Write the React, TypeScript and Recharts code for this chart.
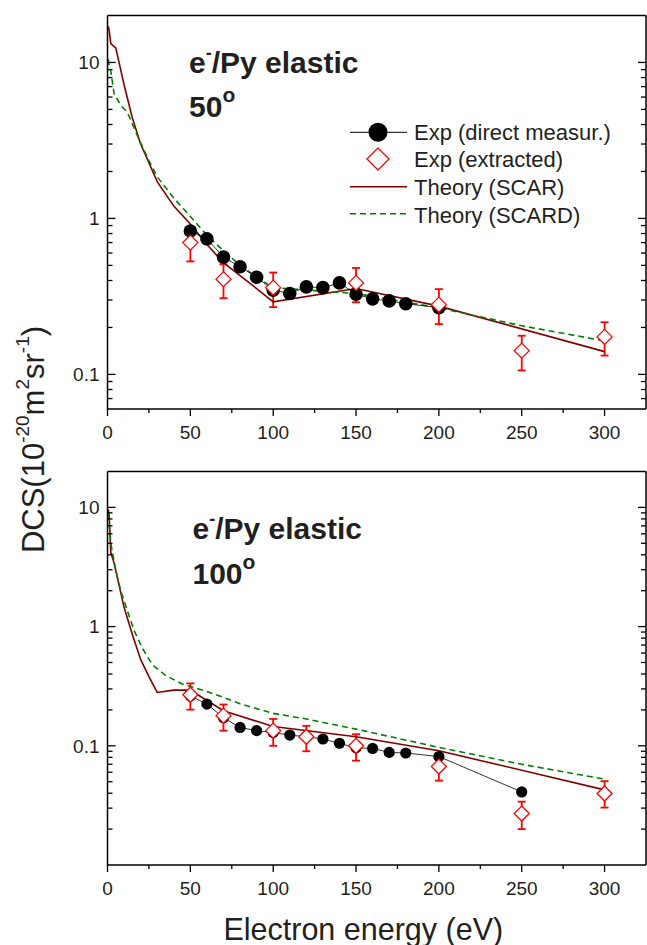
import React from 'react'
import { ComposedChart, Line, Scatter, ErrorBar, XAxis, YAxis, Legend } from 'recharts'

const FONT = '"Liberation Sans", Arial, Helvetica, sans-serif'
const INK = '#231f20'
const RED = '#ff0000'
const SCAR_COLOR = '#800000'
const SCARD_COLOR = '#008000'

// ---- 50 deg ----
const direct50E = [50, 60, 70, 80, 90, 100, 110, 120, 130, 140, 150, 160, 170, 180, 200]
const direct50V = [0.83, 0.74, 0.565, 0.49, 0.42, 0.347, 0.33, 0.364, 0.36, 0.386, 0.327, 0.305, 0.296, 0.284, 0.268]

const extr50E = [50, 70, 100, 150, 200, 250, 300]
const extr50V = [0.7, 0.408, 0.36, 0.386, 0.28, 0.142, 0.174]
const extr50Lo = [0.17, 0.1, 0.09, 0.096, 0.07, 0.036, 0.042]
const extr50Hi = [0.18, 0.1, 0.09, 0.095, 0.072, 0.035, 0.042]

const scar50E = [0.5, 1, 2, 5, 10, 15, 20, 30, 40, 50, 60, 70, 80, 90, 100, 150, 200, 300]
const scar50V = [17, 16, 13.2, 12.4, 7.2, 4.4, 3.0, 1.72, 1.2, 0.92, 0.68, 0.52, 0.43, 0.355, 0.292, 0.355, 0.274, 0.14]

const scard50E = [0.5, 1, 2, 4, 8, 12, 16, 20, 25, 30, 40, 50, 60, 70, 80, 90, 100, 150, 200, 250, 300]
const scard50V = [10.5, 9.5, 8.8, 6.3, 5.3, 4.8, 3.8, 3.05, 2.35, 1.85, 1.35, 1.03, 0.78, 0.62, 0.5, 0.42, 0.36, 0.33, 0.267, 0.205, 0.164]

// ---- 100 deg ----
const direct100E = [50, 60, 70, 80, 90, 100, 110, 120, 130, 140, 150, 160, 170, 180, 200, 250]
const direct100V = [0.262, 0.224, 0.172, 0.1425, 0.134, 0.129, 0.123, 0.119, 0.114, 0.105, 0.096, 0.095, 0.088, 0.087, 0.0813, 0.041]

const extr100E = [50, 70, 100, 120, 150, 200, 250, 300]
const extr100V = [0.268, 0.179, 0.134, 0.119, 0.1, 0.067, 0.027, 0.0398]
const extr100Lo = [0.067, 0.045, 0.034, 0.029, 0.025, 0.016, 0.007, 0.0095]
const extr100Hi = [0.066, 0.043, 0.034, 0.028, 0.025, 0.017, 0.007, 0.0107]

const scar100E = [0.5, 1, 2, 4, 10, 15, 20, 25, 30, 40, 50, 60, 70, 100, 150, 200, 300]
const scar100V = [9.6, 8.5, 4.2, 3.4, 1.45, 0.86, 0.53, 0.38, 0.28, 0.293, 0.293, 0.24, 0.197, 0.145, 0.119, 0.091, 0.0427]

const scard100E = [0.5, 1, 2, 5, 8, 12, 16, 21, 27, 35, 45, 50, 60, 70, 80, 100, 120, 150, 200, 250, 300]
const scard100V = [8.8, 7.5, 5.0, 2.95, 2.0, 1.36, 0.93, 0.66, 0.48, 0.39, 0.33, 0.315, 0.285, 0.255, 0.225, 0.187, 0.168, 0.138, 0.097, 0.07, 0.0525]

// ---- ticks ----
const xTicks = [0, 25, 50, 75, 100, 125, 150, 175, 200, 225, 250, 275, 300]
const yTicks50 = [0.07, 0.08, 0.09, 0.1, 0.2, 0.3, 0.4, 0.5, 0.6, 0.7, 0.8, 0.9, 1, 2, 3, 4, 5, 6, 7, 8, 9, 10]
const yTicks100 = [0.02, 0.03, 0.04, 0.05, 0.06, 0.07, 0.08, 0.09, 0.1, 0.2, 0.3, 0.4, 0.5, 0.6, 0.7, 0.8, 0.9, 1, 2, 3, 4, 5, 6, 7, 8, 9, 10]
const yMajors = [0.01, 0.1, 1, 10]

type Pt = { e: number; v: number; err?: number[] }
const zip = (es: number[], vs: number[]): Pt[] => es.map((e, i) => ({ e, v: vs[i] }))
const zipErr = (es: number[], vs: number[], lo: number[], hi: number[]): Pt[] =>
    es.map((e, i) => ({ e, v: vs[i], err: [lo[i], hi[i]] }))

const BottomTick = (props: any) => {
    const { x, y, payload } = props
    const v = payload.value
    const major = v % 50 === 0
    return (
        <g>
            <line x1={x} x2={x} y1={y} y2={y + (major ? 7 : 4)} stroke="#000" strokeWidth={1.3} />
            {major && (
                <text x={x} y={y + 29.5} textAnchor="middle" fontSize={19} fontFamily={FONT} fill={INK}>
                    {v}
                </text>
            )}
        </g>
    )
}

const TopTick = (props: any) => {
    const { x, y, payload } = props
    const major = payload.value % 50 === 0
    return <line x1={x} x2={x} y1={y} y2={y + (major ? 6 : 4)} stroke="#000" strokeWidth={1.3} />
}

const LeftTick = (props: any) => {
    const { x, y, payload } = props
    const v = payload.value
    const major = yMajors.includes(v)
    return (
        <g>
            <line x1={x} x2={x + (major ? 8 : 5)} y1={y} y2={y} stroke="#000" strokeWidth={1.3} />
            {major && (
                <text x={x - 8} y={y} dy="0.36em" textAnchor="end" fontSize={19} fontFamily={FONT} fill={INK}>
                    {String(v)}
                </text>
            )}
        </g>
    )
}

const RightTick = (props: any) => {
    const { x, y, payload } = props
    const major = yMajors.includes(payload.value)
    return <line x1={x} x2={x - (major ? 8 : 5)} y1={y} y2={y} stroke="#000" strokeWidth={1.3} />
}

const Diamond = (props: any) => {
    const { cx, cy } = props
    const h = 7.5
    return (
        <path
            d={`M${cx},${cy - h}L${cx + h},${cy}L${cx},${cy + h}L${cx - h},${cy}Z`}
            fill="#fff"
            stroke={RED}
            strokeWidth={1.3}
        />
    )
}

const makeDot = (r: number) => (props: any) => <circle cx={props.cx} cy={props.cy} r={r} fill="#000" />

const LegendBox = () => (
    <svg width={300} height={115} style={{ overflow: 'visible', display: 'block' }}>
        <g fontFamily={FONT} fontSize={22} fill={INK}>
            <line x1={10} x2={67} y1={14.3} y2={14.3} stroke="#000" strokeWidth={1} />
            <circle cx={38} cy={14.3} r={9.5} fill="#000" />
            <text x={74} y={21.5}>Exp (direct measur.)</text>
            <path d="M38,30 L49,41 L38,52 L27,41 Z" fill="#fff" stroke={RED} strokeWidth={1.3} />
            <text x={74} y={49.2}>Exp (extracted)</text>
            <line x1={10} x2={67} y1={68.7} y2={68.7} stroke={SCAR_COLOR} strokeWidth={1.6} />
            <text x={74} y={76.9}>Theory (SCAR)</text>
            <line x1={10} x2={67} y1={95.7} y2={95.7} stroke={SCARD_COLOR} strokeWidth={1.6} strokeDasharray="6 4" />
            <text x={74} y={104.6}>Theory (SCARD)</text>
        </g>
    </svg>
)

interface PanelProps {
    direct: Pt[]
    extracted: Pt[]
    scar: Pt[]
    scard: Pt[]
    yDomain: [number, number]
    yTicks: number[]
    dotR: number
    legend?: boolean
}

function Panel({ direct, extracted, scar, scard, yDomain, yTicks, dotR, legend }: PanelProps) {
    const axisLine = { stroke: '#000', strokeWidth: 1.5 }
    return (
        <ComposedChart width={647} height={441} margin={{ top: 14.5, right: 0, bottom: 0, left: 106.5 }}>
            <XAxis
                xAxisId="b"
                dataKey="e"
                type="number"
                domain={[0, 325]}
                allowDataOverflow
                ticks={xTicks}
                interval={0}
                height={32}
                tickSize={0}
                tickMargin={0}
                tickLine={false}
                axisLine={axisLine}
                tick={BottomTick}
            />
            <XAxis
                xAxisId="t"
                orientation="top"
                type="number"
                domain={[0, 325]}
                allowDataOverflow
                ticks={xTicks}
                interval={0}
                height={1}
                tickSize={0}
                tickMargin={0}
                tickLine={false}
                axisLine={axisLine}
                tick={TopTick}
            />
            <YAxis
                yAxisId="l"
                dataKey="v"
                type="number"
                scale="log"
                domain={yDomain}
                allowDataOverflow
                ticks={yTicks}
                interval={0}
                width={1}
                tickSize={0}
                tickMargin={0}
                tickLine={false}
                axisLine={axisLine}
                tick={LeftTick}
            />
            <YAxis
                yAxisId="r"
                orientation="right"
                type="number"
                scale="log"
                domain={yDomain}
                allowDataOverflow
                ticks={yTicks}
                interval={0}
                width={1}
                tickSize={0}
                tickMargin={0}
                tickLine={false}
                axisLine={axisLine}
                tick={RightTick}
            />
            <Scatter
                xAxisId="b"
                yAxisId="l"
                data={direct}
                dataKey="v"
                line={{ stroke: '#000', strokeWidth: 0.8 }}
                shape={makeDot(dotR)}
                isAnimationActive={false}
            />
            <Scatter
                xAxisId="b"
                yAxisId="l"
                data={extracted}
                dataKey="v"
                shape={Diamond}
                isAnimationActive={false}
            >
                <ErrorBar dataKey="err" direction="y" width={4} stroke={RED} strokeWidth={1.8} />
            </Scatter>
            <Line
                xAxisId="b"
                yAxisId="l"
                data={scar}
                dataKey="v"
                stroke={SCAR_COLOR}
                strokeWidth={1.6}
                dot={false}
                activeDot={false}
                isAnimationActive={false}
            />
            <Line
                xAxisId="b"
                yAxisId="l"
                data={scard}
                dataKey="v"
                stroke={SCARD_COLOR}
                strokeWidth={1.6}
                strokeDasharray="6 4"
                dot={false}
                activeDot={false}
                isAnimationActive={false}
            />
            {legend && (
                <Legend
                    content={<LegendBox />}
                    layout="vertical"
                    align="center"
                    verticalAlign="middle"
                    wrapperStyle={{ left: 340, top: 118, width: 300 }}
                />
            )}
        </ComposedChart>
    )
}

export default function App() {
    return (
        <div style={{ position: 'absolute', left: 0, top: 0, width: 647, height: 945, background: '#fff', overflow: 'hidden' }}>
            <div style={{ position: 'absolute', left: 0, top: 0 }}>
                <Panel
                    direct={zip(direct50E, direct50V)}
                    extracted={zipErr(extr50E, extr50V, extr50Lo, extr50Hi)}
                    scar={zip(scar50E, scar50V)}
                    scard={zip(scard50E, scard50V)}
                    yDomain={[0.06, 20]}
                    yTicks={yTicks50}
                    dotR={6.8}
                    legend
                />
            </div>
            <div style={{ position: 'absolute', left: 0, top: 456 }}>
                <Panel
                    direct={zip(direct100E, direct100V)}
                    extracted={zipErr(extr100E, extr100V, extr100Lo, extr100Hi)}
                    scar={zip(scar100E, scar100V)}
                    scard={zip(scard100E, scard100V)}
                    yDomain={[0.01, 20]}
                    yTicks={yTicks100}
                    dotR={5.6}
                />
            </div>
            <svg width={647} height={945} style={{ position: 'absolute', left: 0, top: 0, pointerEvents: 'none' }}>
                <g fontFamily={FONT} fill={INK}>
                    <text x={189} y={72.7} fontSize={30} fontWeight="bold">
                        e<tspan dy={-14} fontSize={18}>-</tspan>
                        <tspan dy={14}>/Py elastic</tspan>
                    </text>
                    <text x={189} y={116.7} fontSize={30} fontWeight="bold">
                        50<tspan dy={-15} fontSize={21}>o</tspan>
                    </text>
                    <text x={192.5} y={539.3} fontSize={30} fontWeight="bold">
                        e<tspan dy={-14} fontSize={18}>-</tspan>
                        <tspan dy={14}>/Py elastic</tspan>
                    </text>
                    <text x={192.5} y={584.3} fontSize={30} fontWeight="bold">
                        100<tspan dy={-15} fontSize={21}>o</tspan>
                    </text>
                    <text x={363.3} y={940} fontSize={30.5} textAnchor="middle">
                        Electron energy (eV)
                    </text>
                    <text x={44} y={439.5} fontSize={31} textAnchor="middle" transform="rotate(-90, 44, 439.5)">
                        DCS(10<tspan dy={-15} fontSize={19}>-20</tspan>
                        <tspan dy={15}>m</tspan>
                        <tspan dy={-15} fontSize={19}>2</tspan>
                        <tspan dy={15}>sr</tspan>
                        <tspan dy={-15} fontSize={19}>-1</tspan>
                        <tspan dy={15}>)</tspan>
                    </text>
                </g>
            </svg>
        </div>
    )
}
